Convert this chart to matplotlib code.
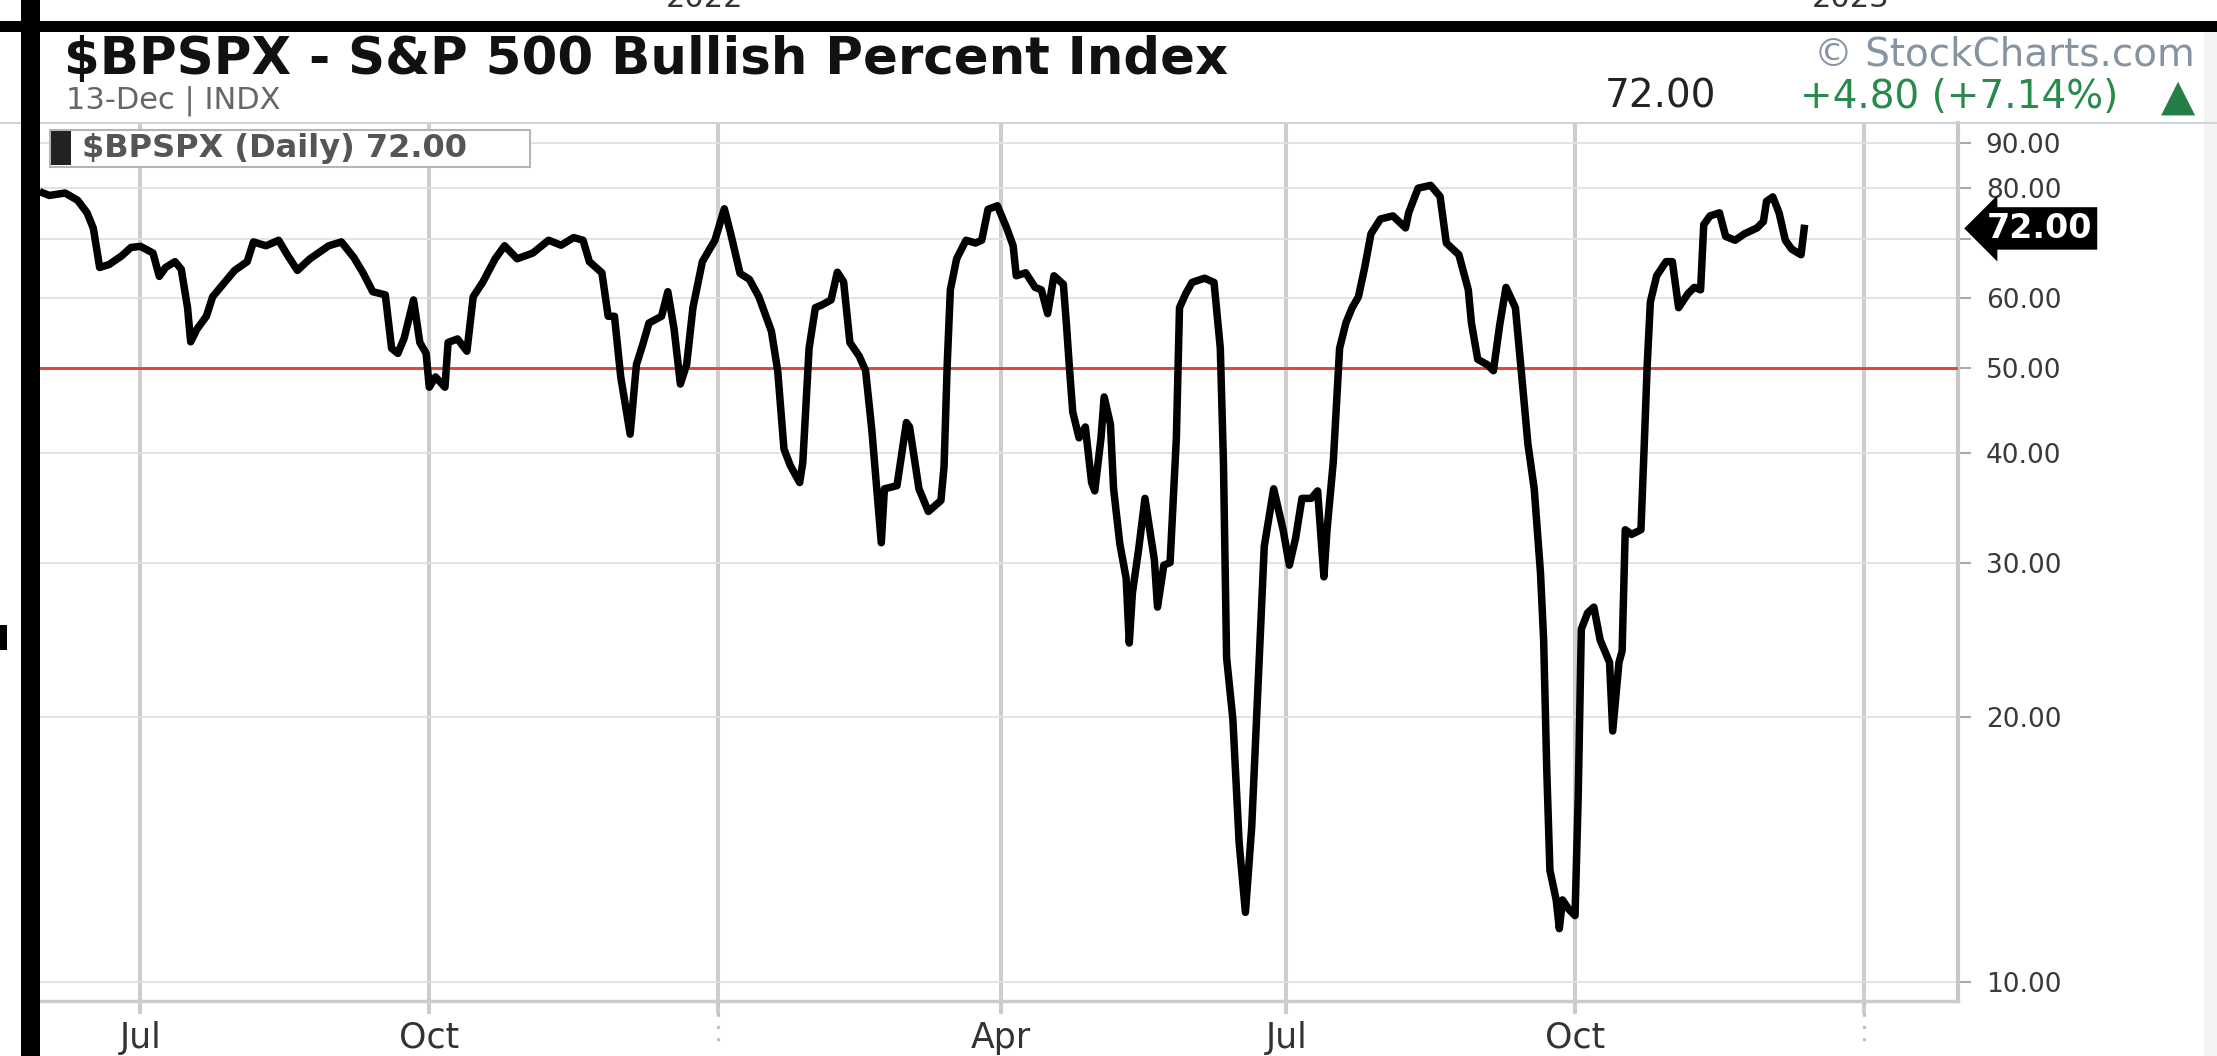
import matplotlib
matplotlib.use("Agg")
import matplotlib.pyplot as plt
import matplotlib.dates as mdates
import matplotlib.transforms as mtransforms
from matplotlib.patches import Rectangle
from matplotlib.lines import Line2D
from matplotlib.ticker import FixedLocator, NullLocator
import pandas as pd

# ---------------- data ----------------
dates = [
    "2021-05-31", "2021-06-02", "2021-06-07", "2021-06-11", "2021-06-14", "2021-06-16", "2021-06-18",
    "2021-06-21", "2021-06-25", "2021-06-28", "2021-07-01", "2021-07-05", "2021-07-07", "2021-07-09",
    "2021-07-12", "2021-07-14", "2021-07-16", "2021-07-17", "2021-07-19", "2021-07-22", "2021-07-24",
    "2021-07-27", "2021-07-31", "2021-08-04", "2021-08-06", "2021-08-10", "2021-08-14", "2021-08-17",
    "2021-08-20", "2021-08-24", "2021-08-30", "2021-09-03", "2021-09-07", "2021-09-10", "2021-09-13",
    "2021-09-17", "2021-09-19", "2021-09-21", "2021-09-23", "2021-09-26", "2021-09-28", "2021-09-30",
    "2021-10-01", "2021-10-03", "2021-10-06", "2021-10-07", "2021-10-10", "2021-10-13", "2021-10-15",
    "2021-10-18", "2021-10-22", "2021-10-25", "2021-10-29", "2021-11-03", "2021-11-08", "2021-11-12",
    "2021-11-16", "2021-11-19", "2021-11-21", "2021-11-25", "2021-11-27", "2021-11-29", "2021-12-01",
    "2021-12-04", "2021-12-06", "2021-12-08", "2021-12-10", "2021-12-14", "2021-12-16", "2021-12-18",
    "2021-12-20", "2021-12-22", "2021-12-24", "2021-12-27", "2021-12-31", "2022-01-03", "2022-01-05",
    "2022-01-08", "2022-01-11", "2022-01-14", "2022-01-18", "2022-01-20", "2022-01-22", "2022-01-24",
    "2022-01-27", "2022-01-28", "2022-01-30", "2022-02-01", "2022-02-03", "2022-02-06", "2022-02-08",
    "2022-02-10", "2022-02-12", "2022-02-15", "2022-02-17", "2022-02-19", "2022-02-21", "2022-02-22",
    "2022-02-23", "2022-02-27", "2022-03-02", "2022-03-03", "2022-03-06", "2022-03-09", "2022-03-13",
    "2022-03-14", "2022-03-15", "2022-03-16", "2022-03-18", "2022-03-21", "2022-03-24", "2022-03-26",
    "2022-03-28", "2022-03-31", "2022-04-01", "2022-04-03", "2022-04-05", "2022-04-06", "2022-04-09",
    "2022-04-12", "2022-04-14", "2022-04-16", "2022-04-18", "2022-04-21", "2022-04-22", "2022-04-23",
    "2022-04-24", "2022-04-26", "2022-04-28", "2022-04-30", "2022-05-01", "2022-05-03", "2022-05-04",
    "2022-05-06", "2022-05-07", "2022-05-09", "2022-05-11", "2022-05-12", "2022-05-13", "2022-05-15",
    "2022-05-17", "2022-05-20", "2022-05-21", "2022-05-23", "2022-05-25", "2022-05-27", "2022-05-28",
    "2022-05-30", "2022-06-01", "2022-06-05", "2022-06-08", "2022-06-10", "2022-06-11", "2022-06-12",
    "2022-06-14", "2022-06-16", "2022-06-18", "2022-06-20", "2022-06-22", "2022-06-24", "2022-06-27",
    "2022-06-30", "2022-07-02", "2022-07-04", "2022-07-06", "2022-07-09", "2022-07-11", "2022-07-13",
    "2022-07-14", "2022-07-16", "2022-07-18", "2022-07-20", "2022-07-22", "2022-07-24", "2022-07-26",
    "2022-07-28", "2022-07-31", "2022-08-04", "2022-08-08", "2022-08-09", "2022-08-12", "2022-08-16",
    "2022-08-19", "2022-08-21", "2022-08-25", "2022-08-28", "2022-08-29", "2022-08-31", "2022-09-03",
    "2022-09-05", "2022-09-07", "2022-09-09", "2022-09-12", "2022-09-14", "2022-09-16", "2022-09-18",
    "2022-09-20", "2022-09-21", "2022-09-22", "2022-09-23", "2022-09-25", "2022-09-26", "2022-09-27",
    "2022-09-29", "2022-10-01", "2022-10-02", "2022-10-03", "2022-10-05", "2022-10-07", "2022-10-09",
    "2022-10-12", "2022-10-13", "2022-10-15", "2022-10-16", "2022-10-17", "2022-10-19", "2022-10-22",
    "2022-10-23", "2022-10-24", "2022-10-25", "2022-10-27", "2022-10-30", "2022-11-01", "2022-11-03",
    "2022-11-06", "2022-11-08", "2022-11-10", "2022-11-11", "2022-11-13", "2022-11-16", "2022-11-18",
    "2022-11-21", "2022-11-24", "2022-11-28", "2022-11-30", "2022-12-01", "2022-12-03", "2022-12-05",
    "2022-12-07", "2022-12-09", "2022-12-12", "2022-12-13",
]
values = [
    79.0, 78.5, 79.0, 77.5, 75.0, 72.0, 65.0,
    65.5, 67.0, 68.5, 68.7, 67.5, 63.5, 65.0,
    66.0, 64.7, 58.5, 53.5, 55.3, 57.2, 60.2,
    62.0, 64.5, 66.0, 69.5, 68.8, 69.8, 67.0,
    64.5, 66.5, 68.8, 69.5, 66.7, 64.0, 61.0,
    60.5, 52.6, 51.9, 54.0, 59.7, 53.4, 51.9,
    47.5, 48.8, 47.5, 53.4, 53.9, 52.2, 60.2,
    62.5, 66.5, 68.8, 66.5, 67.5, 69.8, 68.9,
    70.3, 69.8, 66.0, 64.1, 57.2, 57.2, 48.8,
    42.0, 50.4, 53.1, 56.2, 57.2, 61.0, 55.3,
    47.9, 50.4, 58.5, 66.0, 69.8, 75.8, 71.1,
    64.0, 63.0, 60.2, 55.0, 49.6, 40.4, 38.7,
    37.0, 39.0, 52.6, 58.5, 58.9, 59.7, 64.2,
    62.6, 53.4, 51.5, 49.6, 42.4, 34.8, 31.6,
    36.4, 36.7, 43.3, 42.8, 36.4, 34.3, 35.3,
    38.6, 50.4, 61.3, 66.5, 69.8, 69.3, 69.8,
    75.7, 76.4, 74.9, 72.0, 68.8, 63.6, 64.1,
    61.7, 61.3, 57.6, 63.6, 62.2, 55.9, 49.6,
    44.5, 41.6, 42.8, 37.0, 36.2, 41.6, 46.3,
    43.1, 36.4, 31.5, 28.8, 24.3, 27.7, 31.1,
    35.5, 30.2, 26.7, 29.8, 30.0, 41.6, 58.5,
    60.7, 62.5, 63.2, 62.5, 52.6, 39.0, 23.4,
    19.9, 14.4, 12.0, 15.0, 21.7, 31.3, 36.4,
    32.7, 29.8, 32.0, 35.5, 35.5, 36.2, 28.9,
    32.7, 39.1, 52.6, 56.2, 58.5, 60.2, 65.0,
    71.0, 73.8, 74.4, 72.1, 75.0, 80.0, 80.6,
    78.3, 69.3, 67.2, 61.3, 56.2, 51.1, 50.4,
    49.6, 55.9, 61.7, 58.5, 49.0, 40.9, 36.4,
    29.2, 24.5, 17.4, 13.4, 12.4, 11.5, 12.4,
    12.1, 11.9, 16.2, 25.2, 26.3, 26.7, 24.5,
    23.1, 19.3, 23.1, 23.8, 32.7, 32.3, 32.7,
    40.4, 50.4, 59.4, 63.6, 66.0, 66.0, 58.5,
    60.7, 61.7, 61.3, 72.7, 74.4, 75.0, 70.5,
    69.8, 71.0, 72.1, 73.3, 77.3, 78.2, 75.0,
    69.8, 68.2, 67.2, 72.0,
]
threshold = 50.0
y_ticks = [10, 20, 30, 40, 50, 60, 70, 80, 90]
y_tick_labels = ["10.00", "20.00", "30.00", "40.00", "50.00", "60.00", "", "80.00", "90.00"]
x_tick_dates = ["2021-07-01", "2021-10-01", "2022-01-01", "2022-04-01",
                "2022-07-01", "2022-10-01", "2023-01-01"]
x_tick_labels = ["Jul", "Oct", "", "Apr", "Jul", "Oct", ""]
year_dates = ["2022-01-01", "2023-01-01"]
year_labels = ["2022", "2023"]
title = "$BPSPX - S&P 500 Bullish Percent Index"
subtitle = "13-Dec | INDX"
last_close = "72.00"
change_text = "+4.80 (+7.14%)"
legend_text = "$BPSPX (Daily) 72.00"
credit = "\u00a9 StockCharts.com"

# ---------------- figure ----------------
W, H = 2217, 1056
fig = plt.figure(figsize=(W / 100, H / 100), dpi=100)
fig.patch.set_facecolor("white")


def fx(x):
    return x / W


def fy(y):
    return 1 - y / H


ax = fig.add_axes([fx(40), fy(1001), (1958 - 40) / W, (1001 - 123) / H])
ax.set_facecolor("white")

d = pd.to_datetime(dates)
ax.plot(d, values, color="black", lw=5.4, zorder=4, solid_joinstyle="round")
ax.axhline(threshold, color="#e4423c", lw=2.1, zorder=3)

ax.set_yscale("log")
ax.set_ylim(9.515, 94.9)
ax.set_xlim(pd.Timestamp("2021-05-30"), pd.Timestamp("2023-01-31"))

ax.yaxis.set_major_locator(FixedLocator(y_ticks))
ax.yaxis.set_minor_locator(NullLocator())
ax.set_yticklabels(y_tick_labels)
ax.yaxis.tick_right()
ax.tick_params(axis="y", which="major", length=9, width=1.5, color="#aaaaaa",
               pad=11, labelsize=19, labelcolor="#3a3a3a")

xt = [mdates.date2num(pd.Timestamp(s)) for s in x_tick_dates]
ax.set_xticks(xt)
ax.set_xticklabels(x_tick_labels)
ax.tick_params(axis="x", which="major", length=9.4, width=2.9, color="#cccccc",
               pad=5, labelsize=25, labelcolor="#333333")
ax.xaxis.set_minor_locator(NullLocator())

ax.grid(axis="y", color="#e0e0e0", lw=1.3)
ax.grid(axis="x", color="#cdcdcd", lw=2.9)
ax.set_axisbelow(True)

for s in ("top", "left"):
    ax.spines[s].set_visible(False)
ax.spines["bottom"].set_color("#cccccc")
ax.spines["bottom"].set_linewidth(2.5)
ax.spines["right"].set_color("#c8c8c8")
ax.spines["right"].set_linewidth(3)

# dotted year separators below the axis
blend = mtransforms.blended_transform_factory(ax.transData, ax.transAxes)
for s in year_dates:
    t = mdates.date2num(pd.Timestamp(s))
    ax.plot([t, t], [0, -0.052], transform=blend, clip_on=False,
            color="#c0c0c0", lw=2.2, ls=(0, (1, 3)))

# last value arrow label
ax.annotate(f"{values[-1]:.2f}", xy=(1.0, values[-1]),
            xycoords=("axes fraction", "data"), xytext=(29, 0),
            textcoords="offset pixels", ha="left", va="center",
            fontsize=24, weight="bold", color="white",
            bbox=dict(boxstyle="larrow,pad=0.1", fc="black", ec="black", lw=2),
            annotation_clip=False, zorder=10)

# ---------------- frame decorations ----------------
fig.add_artist(Line2D([0, 1], [fy(123), fy(123)], color="#c9d6e2", lw=1.5))
fig.add_artist(Rectangle((fx(2204), 0), 1 - fx(2204), fy(32), fc="#f4f4f4", ec="none"))
fig.add_artist(Rectangle((0, fy(32)), 1, 11 / H, fc="black", ec="none", zorder=8))
fig.add_artist(Rectangle((fx(21), 0), (40 - 21) / W, 1, fc="black", ec="none", zorder=8))
fig.add_artist(Rectangle((0, fy(650)), 7 / W, 25 / H, fc="black", ec="none", zorder=8))

for s, lab in zip(year_dates, year_labels):
    xd = ax.transData.transform((mdates.date2num(pd.Timestamp(s)), 50))[0]
    fig.text(xd / W - 0.006, fy(7), lab, ha="center", va="baseline",
             fontsize=22, color="#333333")

# legend box
fig.add_artist(Rectangle((fx(50), fy(167)), (530 - 50) / W, (167 - 130) / H,
                         fc="white", ec="#b5b5b5", lw=1.5, zorder=6))
fig.add_artist(Rectangle((fx(51), fy(165)), (71 - 51) / W, (165 - 131) / H,
                         fc="#222222", ec="none", zorder=7))
fig.text(fx(82), fy(149), legend_text, ha="left", va="center", fontsize=23,
         weight="bold", color="#555555", parse_math=False, zorder=7)

# header
fig.text(fx(64), fy(74), title, ha="left", va="baseline", fontsize=37,
         weight="bold", color="#111111", parse_math=False)
fig.text(fx(66), fy(109), subtitle, ha="left", va="baseline", fontsize=22,
         color="#666666")
fig.text(fx(2195), fy(66), credit, ha="right", va="baseline", fontsize=28,
         color="#8593a3")
fig.text(fx(1716), fy(108), last_close, ha="right", va="baseline", fontsize=28,
         color="#222222")
fig.text(fx(2118), fy(108), change_text, ha="right", va="baseline", fontsize=28,
         color="#2a8a4e")
fig.text(fx(2195), fy(110), "\u25b2", ha="right", va="baseline", fontsize=32,
         color="#237f45")

fig.savefig("out.png", dpi=100, facecolor="white")
